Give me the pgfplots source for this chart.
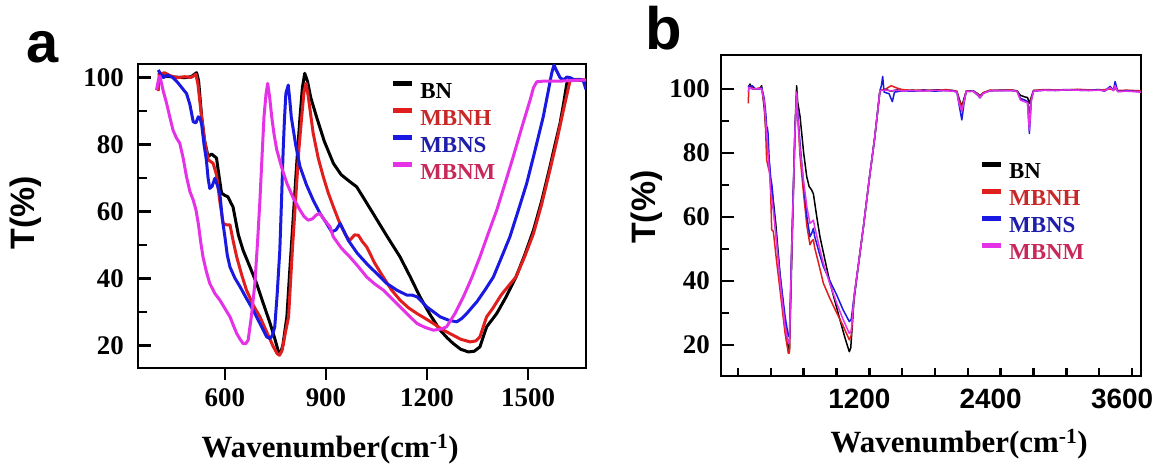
\documentclass[border=0pt]{standalone}
\usepackage{fontspec}
\setmainfont{Liberation Serif}
\newfontfamily\sansf{Liberation Sans}
\usepackage{pgfplots}
\pgfplotsset{compat=1.18}
\definecolor{cBN}{RGB}{0,0,0}
\definecolor{cH}{RGB}{225,30,30}
\definecolor{cS}{RGB}{25,25,225}
\definecolor{cM}{RGB}{230,50,230}
\definecolor{tH}{RGB}{200,40,40}
\definecolor{tS}{RGB}{30,30,170}
\definecolor{tM}{RGB}{200,40,90}
\begin{document}
\begin{tikzpicture}[x=1bp,y=1bp]
\path[use as bounding box] (0,0) rectangle (1164,469);
\pgfplotsset{
  common/.style={
    scale only axis,
    axis line style={line width=2.5bp},
    tick style={line width=2.5bp,black},
    tick align=inside,
    tick pos=left,
    major tick length=13bp,
    minor tick length=9bp,
    /pgf/number format/1000 sep={},
    /pgf/number format/assume math mode=true,
    ytick={20,40,60,80,100},
    minor y tick num=1,
    yticklabel style={font=\bfseries\fontsize{27}{27}\selectfont, inner sep=0bp, anchor=east},
    legend cell align=left,
    legend image code/.code={\draw[##1,line width=5bp] (0bp,7bp) -- (19bp,7bp);},
    every axis plot/.append style={line join=round},
  }
}
% ---------------- panel a ----------------
\begin{axis}[common,
  at={(138bp,101bp)}, anchor=south west,
  width=448bp, height=304bp,
  xmin=342, xmax=1672, ymin=13.2, ymax=104.1,
  xtick={600,900,1200,1500},
  x tick style={yshift=-12bp},
  xticklabel style={font=\bfseries\fontsize{27}{27}\selectfont, inner sep=0bp, anchor=north, yshift=-20bp},
  yticklabel style={xshift=-14bp},
  xlabel={\bfseries\fontsize{31}{31}\selectfont Wavenumber(cm\textsuperscript{-1})},
  xlabel style={at={(axis description cs:0.429,-0.296)}, anchor=base},
  ylabel={\sansf\bfseries\fontsize{34}{34}\selectfont T(\%)},
  ylabel style={at={(axis description cs:-0.25,0.51)}, anchor=center, rotate=0},
  legend style={draw=none, fill=none, at={(axis description cs:0.556,0.95)}, anchor=north west,
    font=\bfseries\fontsize{23}{23}\selectfont, row sep=10bp, column sep=6bp,
    nodes={inner sep=0bp, text height=15bp, text depth=0bp}},
]
\addplot[cBN, line width=3bp] coordinates {
(402,101.5)(420,100.5)(450,100.2)(480,100.0)(500,100.3)(516,101.5)(522,99)(531,88.3)(540,81)(550,76.4)(560,77.2)(575,76)(582,71)(590,65.5)(600,64.8)(609,64.4)(618,62.5)(624,61.4)(640,53)(654,48.4)(674,43.5)(694,38.5)(714,32.5)(734,26.6)(748,22)(759,18)(765,17.6)(772,20)(784,28.5)(793,43)(803,58.4)(813,74)(823,88.3)(830,97)(837,101.3)(845,99)(855,94)(872,88.3)(895,81)(922,74.4)(945,71)(971,68.9)(991,67.4)(1015,63.5)(1040,59.4)(1080,52.8)(1120,46.4)(1150,40.5)(1179,34.5)(1210,29)(1239,24.5)(1260,22.2)(1278,20.5)(1300,18.8)(1323,18)(1340,18.2)(1357,19.5)(1367,22.5)(1377,25.5)(1407,29.5)(1435,34.5)(1464,40.4)(1490,47)(1516,54.4)(1540,63)(1565,73.4)(1580,80)(1595,86.4)(1605,92)(1615,98.3)(1625,99.2)(1645,99.2)(1672,99.3)
};
\addlegendentry{BN}
\addplot[cH, line width=3bp] coordinates {
(402,96)(405,101)(420,101.5)(440,100.5)(460,100)(480,100.3)(500,100.1)(514,101)(520,98)(531,88)(540,81)(550,75.5)(565,74.4)(575,71)(585,63)(595,56.4)(605,56)(615,56)(625,51)(635,46.4)(650,41)(664,36.5)(684,32)(704,28.5)(724,24)(744,19.5)(755,17.5)(762,17)(770,18.5)(780,24)(789,28.5)(800,48)(813,68.4)(820,79)(828,88.3)(835,96)(841,98.3)(848,94)(862,83.4)(877,76)(892,70.4)(907,65.5)(922,61.4)(937,57.5)(951,54.4)(961,52.5)(971,51.4)(985,53)(996,52.9)(1008,51)(1021,49.4)(1045,44.5)(1070,40.4)(1095,36.5)(1120,33.5)(1145,31.2)(1170,29.5)(1195,28)(1219,26.5)(1245,24.7)(1268,23.5)(1300,21.8)(1328,21)(1345,21.3)(1357,22.5)(1367,25.5)(1377,28.5)(1395,31)(1420,35)(1440,37.5)(1464,40.4)(1490,46.5)(1516,53.4)(1540,62)(1565,72.4)(1585,81)(1605,90.3)(1625,99.3)(1645,99.5)(1672,99.3)
};
\addlegendentry{\textcolor{tH}{MBNH}}
\addplot[cS, line width=3bp] coordinates {
(402,102.3)(410,101)(417,100)(430,100.8)(446,100)(456,99)(466,97.8)(476,96.5)(486,95.3)(496,92)(506,86.8)(514,86.5)(521,88.3)(526,88)(531,86)(538,80)(545,75.4)(550,70)(555,66.9)(562,67.5)(570,69.9)(577,68)(585,65.4)(592,58)(600,52.4)(607,47)(615,43.4)(630,40)(645,37.5)(664,34)(684,30.5)(704,26.5)(724,22.5)(734,22)(741,23)(748,25.5)(755,35)(763,48.4)(768,63)(773,78.4)(777,88)(781,95.3)(788,97.8)(792,94)(797,88.3)(810,80)(823,73.4)(842,68)(862,63.4)(882,59.5)(902,56.4)(917,53.9)(930,54.5)(942,56.4)(954,54)(966,51.4)(993,47.5)(1021,44.4)(1050,41.5)(1080,38.5)(1110,36.5)(1140,35)(1155,35)(1170,34.5)(1185,33)(1199,31.5)(1219,30)(1239,28.5)(1264,27.5)(1288,27)(1303,28)(1318,29.5)(1335,31.5)(1348,33)(1372,36.5)(1397,40.4)(1420,46)(1446,52.4)(1470,60)(1496,68.4)(1520,78)(1545,88.3)(1560,96)(1570,101.3)(1577,103.8)(1585,102)(1595,100)(1605,99.3)(1615,100.2)(1625,100)(1635,99.5)(1645,99.3)(1655,99.5)(1664,99)(1672,96.5)
};
\addlegendentry{\textcolor{tS}{MBNS}}
\addplot[cM, line width=3bp] coordinates {
(397,96.3)(402,99)(407,100.5)(417,96)(427,92.3)(437,88)(446,84.3)(456,82)(466,80.4)(476,76)(486,70.4)(496,66)(506,63.4)(514,60.5)(521,56.4)(528,51)(535,46.4)(545,42)(555,38.5)(570,35.5)(585,33.5)(600,31)(615,28.5)(625,26)(635,23.5)(645,21.8)(654,20.5)(662,20.5)(669,21.5)(679,29)(689,38.5)(697,51)(704,63.4)(710,76)(716,88.3)(722,95)(727,98.3)(733,94)(739,88.3)(746,83)(754,78.4)(769,73)(784,68.4)(803,64)(823,60.4)(835,58.5)(847,57.4)(860,57.8)(872,59)(882,59.4)(895,57.5)(912,55.4)(922,52.4)(946,49)(971,46.4)(996,43.5)(1021,40.4)(1045,38.3)(1070,36.5)(1095,34)(1120,31.5)(1145,29)(1170,26.5)(1195,25.3)(1219,24.5)(1240,24.8)(1258,25.5)(1283,29.5)(1308,34.5)(1332,40)(1357,46.4)(1382,53.5)(1407,60.4)(1432,68.5)(1456,76.4)(1481,85)(1506,93.3)(1516,97)(1526,98.8)(1550,99)(1600,99)(1640,99.2)(1672,99.3)
};
\addlegendentry{\textcolor{tM}{MBNM}}
\end{axis}
% ---------------- panel b ----------------
\begin{axis}[common,
  at={(721bp,93bp)}, anchor=south west,
  width=420bp, height=321bp,
  xmin=-155, xmax=3682, ymin=10.3, ymax=110.6,
  xtick={1200,2400,3600},
  major x tick style={draw=none},
  minor xtick={0,300,...,3600},
  minor tick length=8bp,
  xticklabel style={font=\sansf\bfseries\fontsize{28}{28}\selectfont, inner sep=0bp, anchor=north, yshift=-13bp, xshift=-10bp},
  yticklabel style={xshift=-11bp},
  xlabel={\bfseries\fontsize{31}{31}\selectfont Wavenumber(cm\textsuperscript{-1})},
  xlabel style={at={(axis description cs:0.567,-0.237)}, anchor=base},
  ylabel={\sansf\bfseries\fontsize{34}{34}\selectfont T(\%)},
  ylabel style={at={(axis description cs:-0.176,0.526)}, anchor=center, rotate=0},
  legend style={draw=none, fill=none, at={(axis description cs:0.607,0.675)}, anchor=north west,
    font=\bfseries\fontsize{23}{23}\selectfont, row sep=10bp, column sep=6bp,
    nodes={inner sep=0bp, text height=15bp, text depth=0bp}},
]
\addplot[cBN, line width=1.5bp] coordinates {
(94,100.5)(110,101.5)(130,100)(160,100)(200,100)(216,101)(240,94)(262,84)(285,77)(300,70)(323,65)(345,58)(384,42)(430,27)(460,18.5)(470,18)(490,45)(521,88)(536,101)(545,96)(567,91.4)(600,80)(628,72.6)(650,69.5)(673,68.4)(689,67.2)(720,60)(749,53.8)(795,46.5)(841,39.3)(887,33.5)(932,27.8)(975,22.5)(1017,17.9)(1030,19)(1060,34)(1100,45)(1150,58)(1200,72)(1250,85)(1297,99.5)(1350,99.8)(1400,99.3)(1450,99.7)(1500,99.5)(1600,99.6)(1700,99.4)(1800,99.7)(1900,99.6)(1960,99.5)(2000,99.2)(2020,97)(2045,94.5)(2065,97)(2085,99.3)(2150,99.4)(2190,98.5)(2211,97.8)(2240,98.8)(2300,99.5)(2400,99.6)(2500,99.6)(2550,99.4)(2580,98)(2620,97.5)(2645,97.3)(2662,95.5)(2680,97.5)(2700,99.5)(2800,99.7)(2900,99.6)(3000,99.8)(3100,99.7)(3200,99.6)(3300,99.8)(3350,99.5)(3400,100.2)(3430,99.8)(3445,100.5)(3470,99.3)(3550,99.5)(3682,99.2)
};
\addlegendentry{BN}
\addplot[cH, line width=1.5bp] coordinates {
(94,95.5)(100,101)(130,100.5)(160,100)(216,100.5)(240,95)(248,91.4)(262,77.8)(280,75)(292,73.6)(300,66)(308,56)(323,55.5)(350,47)(384,37.2)(430,23.7)(460,17.4)(470,17.5)(490,49.7)(521,86.2)(536,99)(545,92)(567,79)(600,67)(630,57)(658,51.3)(675,52.5)(689,52.9)(700,50.5)(740,45)(780,39.3)(840,34.5)(902,30)(960,26)(1017,21.6)(1035,23)(1060,35)(1100,45)(1150,58)(1200,72)(1250,85)(1297,99.5)(1350,100)(1400,101)(1450,100.3)(1500,99.8)(1600,99.5)(1700,99.7)(1800,99.4)(1900,99.8)(1960,99.5)(2000,99.3)(2020,96.5)(2045,94)(2065,96.5)(2085,99.3)(2150,99.2)(2190,98.3)(2211,97.6)(2240,98.8)(2300,99.6)(2400,99.5)(2500,99.7)(2550,99.3)(2580,97)(2620,96.5)(2645,96)(2662,92.5)(2680,97)(2700,99.5)(2800,99.8)(2900,99.7)(3000,99.6)(3100,99.9)(3200,99.7)(3300,99.6)(3350,99.8)(3400,100)(3430,99.6)(3445,100.3)(3470,99.5)(3550,99.6)(3682,99.4)
};
\addlegendentry{\textcolor{tH}{MBNH}}
\addplot[cS, line width=1.5bp] coordinates {
(94,101)(110,100.5)(130,101)(160,100)(200,100)(216,100.5)(240,97)(255,92)(262,88)(268,88)(275,86)(285,78)(300,72)(310,70)(317,67.5)(323,64)(340,57)(384,42)(430,29)(460,22.6)(470,23)(490,50)(521,88)(536,97)(545,93)(567,83)(600,70)(630,60)(658,53.8)(675,55)(689,56.4)(700,54)(740,49)(780,44.5)(840,40)(902,35.6)(960,31)(1017,27.3)(1035,28)(1060,35)(1100,45)(1150,58)(1200,72)(1250,85)(1297,99.5)(1310,101)(1322,103.9)(1335,99)(1380,98.5)(1410,96)(1430,99)(1500,99.4)(1600,99.3)(1700,99.6)(1800,99.3)(1900,99.5)(1960,99.4)(2000,99)(2020,95)(2045,90.3)(2065,95.5)(2085,99.2)(2150,99.3)(2190,98)(2211,97.2)(2240,98.6)(2300,99.4)(2400,99.5)(2500,99.5)(2550,99.2)(2580,97)(2620,96.5)(2645,96)(2662,86.1)(2680,96.5)(2700,99.3)(2800,99.6)(2900,99.5)(3000,99.7)(3100,99.6)(3200,99.5)(3300,99.7)(3350,99.3)(3400,100.8)(3430,99.5)(3445,102.3)(3470,99.2)(3550,99.4)(3682,99.1)
};
\addlegendentry{\textcolor{tS}{MBNS}}
\addplot[cM, line width=1.5bp] coordinates {
(94,99)(100,100.5)(130,100)(216,100)(240,96)(262,86)(285,75)(300,68)(323,62)(345,55)(384,40)(430,26)(460,20.5)(470,21)(490,48)(521,87)(536,99)(545,92)(567,81)(600,71)(630,63)(658,58)(675,58.5)(689,59)(700,57)(740,51)(780,45.5)(840,39)(902,33)(960,28)(1017,23.6)(1035,24.5)(1060,35)(1100,45)(1150,58)(1200,72)(1250,85)(1297,99.5)(1350,99.6)(1400,99.4)(1450,99.6)(1500,99.4)(1600,99.5)(1700,99.3)(1800,99.6)(1900,99.4)(1960,99.3)(2000,99)(2020,95.5)(2045,93)(2065,96)(2085,99.2)(2150,99.3)(2190,98.2)(2211,97.3)(2240,98.6)(2300,99.4)(2400,99.5)(2500,99.5)(2550,99.2)(2580,96.5)(2620,96)(2645,95.6)(2662,87)(2680,96.5)(2700,99.3)(2800,99.6)(2900,99.5)(3000,99.7)(3100,99.6)(3200,99.5)(3300,99.6)(3350,99.4)(3400,100.4)(3430,99.5)(3445,101)(3470,99.1)(3550,99.3)(3682,99)
};
\addlegendentry{\textcolor{tM}{MBNM}}
\end{axis}
\node[anchor=base west, inner sep=0pt, font=\sansf\bfseries\fontsize{58}{58}\selectfont] at (26,406) {a};
\node[anchor=base west, inner sep=0pt, font=\sansf\bfseries\fontsize{60}{60}\selectfont] at (645,419) {b};
\end{tikzpicture}
\end{document}
